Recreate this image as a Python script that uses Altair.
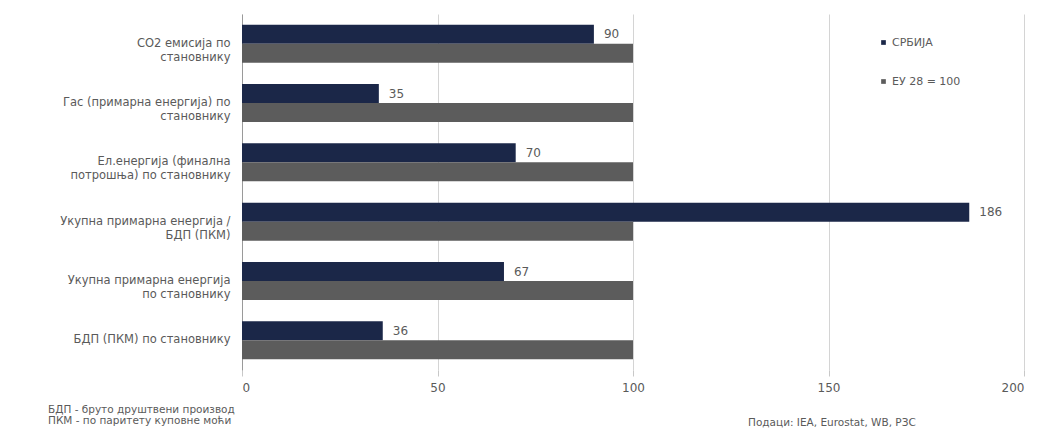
import altair as alt
import pandas as pd

categories = [
    "CO2 емисија по|становнику",
    "Гас (примарна енергија) по|становнику",
    "Ел.енергија (финална|потрошња) по становнику",
    "Укупна примарна енергија /|БДП (ПКМ)",
    "Укупна примарна енергија|по становнику",
    "БДП (ПКМ) по становнику",
]
serbia = [90, 35, 70, 186, 67, 36]
eu28 = [100, 100, 100, 100, 100, 100]
series = ["СРБИЈА", "ЕУ 28 = 100"]
colors = ["#1b2748", "#5c5c5c"]
x_ticks = [0, 50, 100, 150, 200]

notes_left = ["БДП - бруто друштвени производ", "ПКМ - по паритету куповне моћи"]
note_source = "Подаци: IEA, Eurostat, WB, РЗС"

rows = []
for c, s, e in zip(categories, serbia, eu28):
    rows.append({"category": c, "series": series[0], "value": s})
    rows.append({"category": c, "series": series[1], "value": e})
df = pd.DataFrame(rows)

FONT = "DejaVu Sans"
TXT = "#5a5a5a"

y_axis = alt.Axis(
    title=None,
    labelExpr="split(datum.label, '|')",
    labelFontSize=11.5,
    labelColor=TXT,
    labelFont=FONT,
    labelPadding=12,
    labelLineHeight=14,
    ticks=False,
    grid=False,
    domain=True,
    domainColor="#9a9a9a",
    labelLimit=260,
)
x_axis = alt.Axis(
    title=None,
    values=x_ticks,
    grid=True,
    gridColor="#d4d4d4",
    domain=False,
    ticks=True,
    tickSize=6,
    tickColor="#c8c8c8",
    labelFontSize=12,
    labelColor=TXT,
    labelFont=FONT,
    labelPadding=6,
)
y_scale = alt.Scale(paddingInner=0.36, paddingOuter=0.18)
x_scale = alt.Scale(domain=[0, 200], nice=False)
yoff = alt.YOffset("series:N", sort=series, scale=alt.Scale(domain=series, paddingInner=0, paddingOuter=0))

bars = alt.Chart(df).mark_bar(cornerRadius=0).encode(
    y=alt.Y("category:N", sort=categories, scale=y_scale, axis=y_axis),
    x=alt.X("value:Q", scale=x_scale, axis=x_axis),
    yOffset=yoff,
    color=alt.Color(
        "series:N",
        sort=series,
        scale=alt.Scale(domain=series, range=colors),
        legend=alt.Legend(
            title=None,
            orient="none",
            legendX=636,
            legendY=23,
            symbolType="square",
            symbolSize=22,
            labelFontSize=11,
            labelColor=TXT,
            labelFont=FONT,
            rowPadding=27,
            symbolOffset=0,
            labelOffset=3,
        ),
    ),
)

labels = alt.Chart(df).transform_filter(
    alt.datum.series == series[0]
).mark_text(align="left", baseline="middle", dx=10, fontSize=12, color=TXT, font=FONT).encode(
    y=alt.Y("category:N", sort=categories, scale=y_scale, axis=y_axis),
    x=alt.X("value:Q", scale=x_scale, axis=x_axis),
    yOffset=yoff,
    text="value:Q",
)

note_style = dict(align="left", baseline="middle", fontSize=10.5, color=TXT, font=FONT)
note1 = alt.Chart(pd.DataFrame({"t": [notes_left[0]]})).mark_text(**note_style).encode(
    x=alt.value(-194), y=alt.value(396), text="t:N"
)
note2 = alt.Chart(pd.DataFrame({"t": [notes_left[1]]})).mark_text(**note_style).encode(
    x=alt.value(-194), y=alt.value(407), text="t:N"
)
source = alt.Chart(pd.DataFrame({"t": [note_source]})).mark_text(**note_style).encode(
    x=alt.value(506), y=alt.value(409), text="t:N"
)

chart = alt.layer(bars, labels, note1, note2, source).properties(
    width=782,
    height=356,
    view=alt.ViewBackground(stroke=None, strokeWidth=0),
    autosize=alt.AutoSizeParams(type="none"),
    padding={"left": 242, "top": 14, "right": 15, "bottom": 61},
).configure_view(strokeWidth=0, stroke="transparent").configure_axisX(
    domain=False
).configure(background="white")

chart.save("out.html", embed_options={"renderer": "svg", "actions": False})
